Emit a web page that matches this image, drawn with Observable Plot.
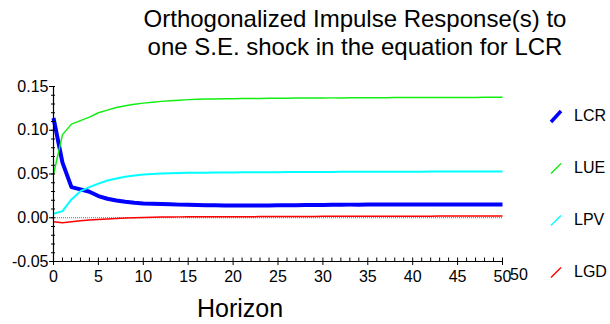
<!DOCTYPE html>
<html>
<head>
<meta charset="utf-8">
<script src="https://cdn.jsdelivr.net/npm/d3@7"></script>
<script src="https://cdn.jsdelivr.net/npm/@observablehq/plot@0.6"></script>
<style>
  html, body { margin: 0; padding: 0; background: #fff; }
  body { font-family: "Liberation Sans", Arial, sans-serif; color: #000; }
  #wrap { position: relative; width: 610px; height: 324px; overflow: hidden; }
  #title { position: absolute; top: 5px; left: 0; width: 710px; text-align: center;
           font-size: 24px; line-height: 27.7px; white-space: nowrap; }
  #plot { position: absolute; top: 0; left: 0; }
  #xlabel { position: absolute; left: 140px; width: 200px; top: 294px; text-align: center; font-size: 25px; line-height: 28px; }
  .leg { position: absolute; left: 548px; height: 20px; font-size: 16px; line-height: 20px; }
  .leg svg { position: absolute; left: 0; top: 2px; }
  .leg span { position: absolute; left: 26px; top: 0; white-space: nowrap; }
  #extra { position: absolute; left: 510px; top: 266px; font-size: 16px; line-height: 18px; }
</style>
</head>
<body>
<div id="wrap">
  <div id="plot"></div>
  <div id="title"></div>
  <div id="xlabel"></div>
  <div id="legend"></div>
  <div id="extra"></div>
</div>
<script>
// ---- data ----
const titleLines = ["Orthogonalized Impulse Response(s) to", "one S.E. shock in the equation for LCR"];
const xTitle = "Horizon";
const seriesNames = ["LCR", "LUE", "LPV", "LGD"];
const seriesColors = ["#0000ff", "#11ee11", "#00ffff", "#ff0000"];
const seriesWidths = [4, 1.5, 2, 1.5];

const horizon = [0,1,2,3,4,5,6,7,8,9,10,11,12,13,14,15,16,17,18,19,20,21,22,23,24,25,26,27,28,29,30,31,32,33,34,35,36,37,38,39,40,41,42,43,44,45,46,47,48,49,50];

const LCR = [0.114,0.063,0.035,0.0324,0.0297,0.0248,0.0217,0.0198,0.0183,0.0171,0.0164,0.016,0.0156,0.0153,0.015,0.0148,0.0146,0.0144,0.0142,0.0141,0.014,0.0139,0.0139,0.014,0.0141,0.0142,0.0143,0.0144,0.0145,0.0146,0.0147,0.0148,0.0149,0.015,0.015,0.0151,0.0151,0.0151,0.0152,0.0152,0.0152,0.0152,0.0152,0.0152,0.0152,0.0152,0.0152,0.0152,0.0152,0.0152,0.0152];
const LUE = [0.0494,0.095,0.107,0.111,0.115,0.12,0.123,0.126,0.128,0.1297,0.131,0.132,0.133,0.1337,0.1343,0.135,0.1353,0.1356,0.1358,0.136,0.1361,0.1362,0.1363,0.1364,0.1365,0.1366,0.1367,0.1368,0.1368,0.1369,0.1369,0.137,0.137,0.1371,0.1371,0.1372,0.1372,0.1372,0.1373,0.1373,0.1373,0.1374,0.1374,0.1374,0.1375,0.1375,0.1375,0.1375,0.1376,0.1376,0.1376];
const LPV = [0.0046,0.0076,0.0209,0.0304,0.035,0.039,0.0426,0.0449,0.0468,0.0482,0.0494,0.0501,0.0506,0.0509,0.0511,0.0513,0.0514,0.0515,0.0516,0.0517,0.0518,0.0519,0.052,0.052,0.0521,0.0521,0.0522,0.0522,0.0523,0.0523,0.0524,0.0524,0.0525,0.0525,0.0525,0.0526,0.0526,0.0526,0.0527,0.0527,0.0527,0.0527,0.0528,0.0528,0.0528,0.0528,0.0528,0.0529,0.0529,0.0529,0.0529];
const LGD = [-0.0046,-0.0057,-0.0046,-0.0034,-0.0026,-0.0019,-0.0013,-0.0008,-0.0004,0.0,0.0004,0.0006,0.0008,0.0009,0.001,0.0011,0.0011,0.0011,0.0011,0.0011,0.0011,0.0012,0.0012,0.0013,0.0013,0.0014,0.0014,0.0015,0.0015,0.0015,0.0016,0.0016,0.0016,0.0017,0.0017,0.0017,0.0017,0.0018,0.0018,0.0018,0.0018,0.0018,0.0018,0.0019,0.0019,0.0019,0.0019,0.0019,0.0019,0.0019,0.0019];

const xMajor = [0,5,10,15,20,25,30,35,40,45,50];
const xMinor = horizon;
const yMajor = [-0.05,0,0.05,0.1,0.15];
const yLabels = ["-0.05","0.00","0.05","0.10","0.15"];
const yMinor = [-0.05,-0.04,-0.03,-0.02,-0.01,0,0.01,0.02,0.03,0.04,0.05,0.06,0.07,0.08,0.09,0.1,0.11,0.12,0.13,0.14,0.15];
const extraLabel = "50";

// ---- build ----
const seriesValues = [LCR, LUE, LPV, LGD];
const W = 610, H = 324, mL = 53, mR = 108, mT = 86, mB = 63;
const frameW = W - mL - mR, frameH = H - mT - mB;

const lineMarks = seriesNames.map((name, i) =>
  Plot.line(horizon.map((h, j) => ({h, v: seriesValues[i][j]})), {
    x: "h", y: "v", stroke: seriesColors[i], strokeWidth: seriesWidths[i],
    strokeLinejoin: "round", strokeLinecap: "butt"
  })
);

const chart = Plot.plot({
  width: W, height: H,
  marginLeft: mL, marginRight: mR, marginTop: mT, marginBottom: mB,
  style: {fontFamily: "'Liberation Sans', Arial, sans-serif", fontSize: "16px", color: "#000", background: "transparent"},
  x: {domain: [0, 50]},
  y: {domain: [-0.05, 0.15]},
  marks: [
    Plot.ruleY([0], {stroke: "#444", strokeWidth: 0.8, strokeDasharray: "1,1"}),
    ...lineMarks,
    // axis lines
    Plot.ruleX([0], {stroke: "#000", strokeWidth: 1.2}),
    Plot.ruleY([-0.05], {stroke: "#000", strokeWidth: 1.2}),
    // y ticks
    Plot.axisY(yMajor, {tickSize: 4, tickPadding: 1, fontSize: 16,
      tickFormat: d => yLabels[yMajor.indexOf(d)], label: null, stroke: "#000"}),
    Plot.axisY(yMinor, {tickSize: 2, text: null, label: null, stroke: "#000"}),
    Plot.ruleY(yMinor, {insetRight: frameW - 2, stroke: "#000"}),
    // x ticks
    Plot.axisX(xMajor, {tickSize: 4, tickPadding: 5, fontSize: 16, label: null, stroke: "#000"}),
    Plot.ruleX(xMinor, {insetTop: frameH - 3.5, stroke: "#000"})
  ]
});
document.getElementById("plot").appendChild(chart);

document.getElementById("title").innerHTML = titleLines.join("<br>");
document.getElementById("xlabel").textContent = xTitle;
document.getElementById("extra").textContent = extraLabel;

const legendTops = [106, 158, 210, 262];
const leg = document.getElementById("legend");
seriesNames.forEach((name, i) => {
  const d = document.createElement("div");
  d.className = "leg";
  d.style.top = legendTops[i] + "px";
  d.innerHTML = `<svg width="16" height="16"><line x1="3" y1="${i === 0 ? 14 : 13.5}" x2="13" y2="${i === 0 ? 3 : 3.5}" stroke="${seriesColors[i]}" stroke-width="${i === 0 ? 3.5 : 1.5}"/></svg><span></span>`;
  d.querySelector("span").textContent = name;
  leg.appendChild(d);
});
</script>
</body>
</html>
